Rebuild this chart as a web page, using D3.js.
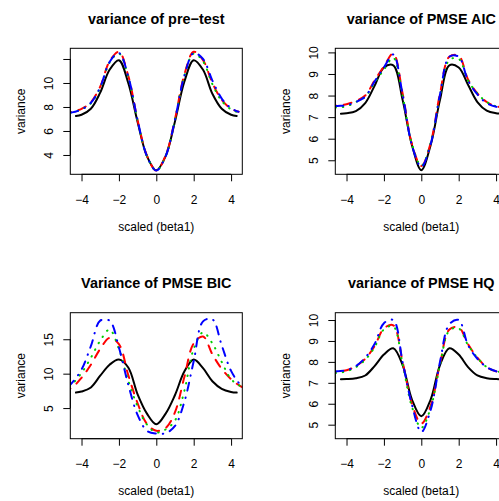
<!DOCTYPE html>
<html>
<head>
<meta charset="utf-8">
<script src="https://cdn.jsdelivr.net/npm/d3@7"></script>
<style>
  body { margin: 0; background: #fff; }
  svg { display: block; }
  text { font-family: "Liberation Sans", Arial, Helvetica, sans-serif; fill: #000; }
</style>
</head>
<body>
<svg id="chart" width="499" height="501"></svg>
<script>
// values
const xBlack = [-4.3, -4, -3.5, -3, -2.5, -2, -1.5, -1, -0.5, 0, 0.5, 1, 1.5, 2, 2.5, 3, 3.5, 4, 4.3];
const xColor = [-5, -4.5, -4, -3.5, -3, -2.5, -2, -1.5, -1, -0.5, 0, 0.5, 1, 1.5, 2, 2.5, 3, 3.5, 4, 4.5, 5];
const xColorPre = [-5, -4.5, -4, -3.5, -3, -2.5, -2, -1.5, -1, -0.5, 0, 0.5, 1, 1.5, 2, 2.5, 3, 3.5, 4, 4.4];

const xTicks = [-4, -2, 0, 2, 4];

// variance of pre-test
const preBlack = [7.25, 7.35, 7.85, 9.2, 11.1, 11.9, 10.0, 6.75, 3.9, 2.72, 3.9, 6.8, 10.1, 11.9, 11.1, 9.1, 7.85, 7.35, 7.25];
const preRed   = [7.5, 7.6, 7.85, 8.4, 9.7, 11.8, 12.6, 10.6, 6.9, 3.95, 2.7, 3.95, 7.0, 10.7, 12.6, 11.9, 10.0, 8.6, 7.85, 7.6];
const preGreen = [7.45, 7.55, 7.8, 8.3, 9.6, 11.7, 12.45, 10.5, 6.85, 3.9, 2.7, 3.9, 6.95, 10.6, 12.45, 11.8, 9.9, 8.5, 7.8, 7.55];
const preBlue  = [7.5, 7.55, 7.8, 8.35, 9.65, 11.75, 12.5, 10.55, 6.9, 3.9, 2.7, 3.9, 6.95, 10.6, 12.5, 12.0, 10.2, 8.7, 7.9, 7.6];
const preTicks = [4, 6, 8, 10, 12];
const preLabels = [4, 6, 8, 10];

// variance of PMSE AIC
const aicBlack = [7.16, 7.18, 7.28, 7.65, 8.45, 9.3, 9.4, 7.8, 5.7, 4.54, 5.7, 7.8, 9.4, 9.3, 8.5, 7.7, 7.3, 7.18, 7.16];
const aicRed   = [7.5, 7.55, 7.6, 7.75, 8.0, 8.7, 9.35, 9.95, 8.1, 5.75, 4.73, 5.8, 8.1, 9.8, 9.85, 8.75, 8.1, 7.7, 7.5, 7.45, 7.42];
const aicGreen = [7.42, 7.45, 7.5, 7.7, 7.95, 8.6, 9.2, 9.75, 8.0, 5.75, 4.75, 5.8, 8.0, 9.65, 9.7, 8.7, 8.1, 7.7, 7.5, 7.45, 7.42];
const aicBlue  = [7.48, 7.52, 7.55, 7.7, 7.95, 8.65, 9.3, 9.9, 8.05, 5.7, 4.7, 5.75, 8.05, 9.8, 9.8, 8.7, 8.05, 7.65, 7.48, 7.42, 7.4];
const aicTicks = [5, 6, 7, 8, 9, 10];

// Variance of PMSE BIC
const bicBlack = [7.25, 7.4, 8.0, 9.7, 11.3, 12.05, 10.9, 7.0, 4.2, 2.65, 4.2, 6.9, 10.3, 12.05, 10.8, 8.9, 7.8, 7.35, 7.25];
const bicRed   = [7.4, 8.0, 9.4, 11.3, 13.6, 15.2, 14.3, 9.8, 5.7, 2.7, 1.7, 2.1, 4.4, 9.5, 14.4, 15.4, 12.8, 10.7, 9.2, 8.2, 7.6];
const bicGreen = [7.6, 8.5, 10.1, 12.3, 14.8, 16.4, 13.6, 9.0, 5.25, 2.6, 1.45, 1.9, 3.2, 7.5, 13.6, 16.0, 14.4, 11.7, 9.2, 8.2, 7.6];
const bicBlue  = [7.4, 8.7, 10.6, 14.0, 17.7, 17.7, 13.8, 8.4, 4.0, 1.7, 1.3, 1.35, 2.4, 5.9, 11.8, 17.6, 17.9, 14.1, 10.4, 8.4, 7.5];
const bicTicks = [5, 10, 15];

// variance of PMSE HQ
const hqBlack = [7.17, 7.18, 7.22, 7.35, 7.8, 8.35, 8.65, 7.85, 6.2, 5.4, 6.2, 7.85, 8.65, 8.35, 7.75, 7.35, 7.22, 7.18, 7.17];
const hqRed   = [7.5, 7.54, 7.6, 7.8, 8.15, 8.75, 9.6, 9.75, 8.0, 6.0, 5.05, 5.9, 7.9, 9.55, 9.65, 8.85, 8.2, 7.75, 7.55, 7.5, 7.48];
const hqGreen = [7.45, 7.48, 7.55, 7.75, 8.1, 8.7, 9.55, 9.7, 7.9, 5.85, 4.85, 5.8, 7.85, 9.5, 9.6, 8.8, 8.2, 7.75, 7.55, 7.5, 7.48];
const hqBlue  = [7.5, 7.55, 7.6, 7.8, 8.2, 8.85, 9.85, 10.0, 8.0, 5.95, 4.65, 5.7, 8.0, 9.8, 10.0, 8.8, 8.15, 7.75, 7.55, 7.5, 7.48];
const hqTicks = [5, 6, 7, 8, 9, 10];

const titles = ["variance of pre\u2212test", "variance of PMSE AIC", "Variance of PMSE BIC", "variance of PMSE HQ"];
const xLabel = "scaled (beta1)";
const yLabel = "variance";

const panels = [
  {title: titles[0], ylim: [2.39, 12.89], ticks: preTicks, labels: preLabels, xc: xColorPre,
   black: preBlack, red: preRed, green: preGreen, blue: preBlue},
  {title: titles[1], ylim: [4.35, 10.19], ticks: aicTicks, labels: aicTicks, xc: xColor,
   black: aicBlack, red: aicRed, green: aicGreen, blue: aicBlue},
  {title: titles[2], ylim: [0.55, 18.86], ticks: bicTicks, labels: bicTicks, xc: xColor,
   black: bicBlack, red: bicRed, green: bicGreen, blue: bicBlue},
  {title: titles[3], ylim: [4.33, 10.35], ticks: hqTicks, labels: hqTicks, xc: xColor,
   black: hqBlack, red: hqRed, green: hqGreen, blue: hqBlue}
];

// layout (R style 2x2 grid, cut at the right and bottom)
const colW = 265, rowH = 264.4;
const L = 70.3, T = 48.3, W = 172, H = 126;

const svg = d3.select("#chart");

const styles = [
  {key: "black", color: "#000000", dash: null},
  {key: "red", color: "#ff0000", dash: "8,8"},
  {key: "green", color: "#00cd00", dash: "0.5,7"},
  {key: "blue", color: "#0000ff", dash: "0.5,7,8,7"}
];

panels.forEach((p, i) => {
  const g = svg.append("g")
    .attr("transform", "translate(" + (i % 2) * colW + "," + Math.floor(i / 2) * rowH + ")");

  let x = d3.scaleLinear().domain([-4.6, 4.6]).range([L, L + W]);
  let y = d3.scaleLinear().domain(p.ylim).range([T + H, T]);

  const clipId = "clip" + i;
  g.append("clipPath").attr("id", clipId)
    .append("rect").attr("x", L).attr("y", T).attr("width", W).attr("height", H);

  let line = d3.line()
    .x(d => x(d[0]))
    .y(d => y(d[1]))
    .curve(d3.curveCatmullRom.alpha(0.5));

  const lines = g.append("g").attr("clip-path", "url(#" + clipId + ")");
  styles.forEach(s => {
    const xs = s.key === "black" ? xBlack : p.xc;
    const pts = xs.map((v, j) => [v, p[s.key][j]]);
    lines.append("path")
      .attr("d", line(pts))
      .attr("fill", "none")
      .attr("stroke", s.color)
      .attr("stroke-width", 2)
      .attr("stroke-linecap", "round")
      .attr("stroke-dasharray", s.dash);
  });

  g.append("rect")
    .attr("x", L).attr("y", T).attr("width", W).attr("height", H)
    .attr("fill", "none").attr("stroke", "#000").attr("stroke-width", 1);

  // x axis
  const xAxis = d3.axisBottom(x).tickValues(xTicks).tickSize(7).tickSizeOuter(0);
  const gx = g.append("g").attr("transform", "translate(0," + (T + H) + ")").call(xAxis);
  gx.select(".domain").attr("d", "M" + x(xTicks[0]) + ",0H" + x(xTicks[xTicks.length - 1]));
  gx.selectAll("text")
    .attr("y", 29.7).attr("dy", null)
    .style("font-size", "12px");

  // y axis
  const yAxis = d3.axisLeft(y).tickValues(p.ticks).tickSize(7).tickSizeOuter(0)
    .tickFormat(d => p.labels.includes(d) ? d3.format("d")(d) : "");
  const gy = g.append("g").attr("transform", "translate(" + L + ",0)").call(yAxis);
  gy.select(".domain").attr("d", "M0," + y(p.ticks[0]) + "V" + y(p.ticks[p.ticks.length - 1]));
  gy.selectAll("text")
    .attr("x", null).attr("dy", null)
    .attr("text-anchor", "middle")
    .attr("transform", "translate(-17.6,0) rotate(-90)")
    .style("font-size", "12px");

  g.selectAll(".tick line").attr("stroke", "#000");
  g.selectAll(".domain").attr("stroke", "#000");

  // titles and labels
  g.append("text")
    .attr("x", L + W / 2).attr("y", 23.5)
    .attr("text-anchor", "middle")
    .style("font-size", "14.4px").style("font-weight", "bold")
    .text(p.title);

  g.append("text")
    .attr("x", L + W / 2).attr("y", T + H + 56.7)
    .attr("text-anchor", "middle")
    .style("font-size", "12px")
    .text(xLabel);

  g.append("text")
    .attr("transform", "translate(25," + (T + H / 2) + ") rotate(-90)")
    .attr("text-anchor", "middle")
    .style("font-size", "12px")
    .text(yLabel);
});
</script>
</body>
</html>
